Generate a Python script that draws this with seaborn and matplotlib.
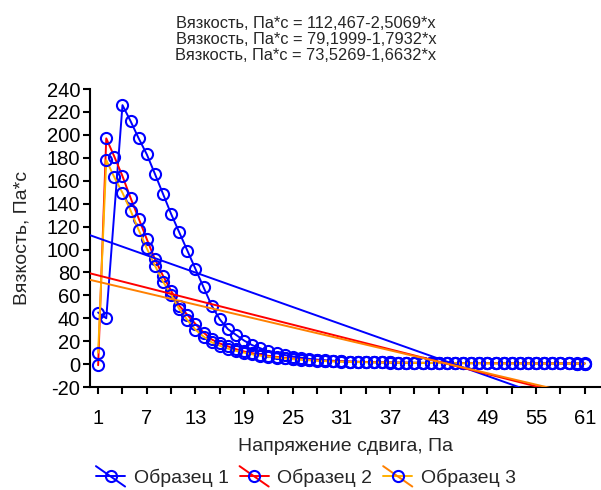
import numpy as np
import pandas as pd
import matplotlib
matplotlib.use("Agg")
import matplotlib.pyplot as plt
from matplotlib.lines import Line2D
from matplotlib.legend_handler import HandlerBase
import seaborn as sns

# Shear stress points (Pa)
stress = list(range(1, 62))

# Viscosity (Pa*s) per sample
sample1 = [45, 40, np.nan, 226, 212, 197, 183, 166, 148.5, 131,
           115, 99, 83, 67, 51, 39, 30.5, 25.5, 20.5, 16.5,
           13.8, 11, 9.4, 7.9, 6.6, 5.6, 4.6, 3.9, 3.3, 2.9,
           2.5, 2.2, 2.0, 1.8, 1.6, 1.5, 1.4, 1.3, 1.2, 1.15,
           1.1, 1.05, 1.0, 0.98, 0.95, 0.92, 0.9, 0.88, 0.85, 0.83,
           0.8, 0.78, 0.76, 0.74, 0.72, 0.7, 0.68, 0.66, 0.64, 0.62, 0.6]
sample2 = [-1, 197, 181, 164, 145, 127, 109, 91.5, 77, 64,
           51, 43, 35, 27.5, 21.5, 18, 15.5, 13, 11, 9.5,
           8.2, 7.2, 6.3, 5.5, 4.8, 4.2, 3.7, 3.3, 2.9, 2.6,
           2.35, 2.15, 1.95, 1.8, 1.65, 1.5, 1.4, 1.3, 1.2, 1.1,
           1.05, 1.0, 0.95, 0.9, 0.85, 0.82, 0.78, 0.75, 0.72, 0.7,
           0.67, 0.65, 0.63, 0.61, 0.59, 0.57, 0.55, 0.54, 0.52, 0.51, 0.5]
sample3 = [10, 178, 163, 149.5, 134, 117, 101, 86, 72, 60.5,
           48, 38.5, 30, 24, 19, 16, 13.5, 11.5, 10, 8.5,
           7.3, 6.4, 5.6, 4.9, 4.3, 3.8, 3.3, 2.9, 2.6, 2.3,
           2.1, 1.9, 1.75, 1.6, 1.5, 1.4, 1.3, 1.2, 1.1, 1.05,
           1.0, 0.95, 0.9, 0.86, 0.82, 0.79, 0.76, 0.73, 0.7, 0.68,
           0.66, 0.64, 0.62, 0.6, 0.58, 0.56, 0.54, 0.53, 0.52, 0.51, 0.5]

series_names = ["Образец 1", "Образец 2", "Образец 3"]
# Linear fits: intercept, slope
fit_intercepts = [112.467, 79.1999, 73.5269]
fit_slopes = [-2.5069, -1.7932, -1.6632]
fit_labels = ["Вязкость, Па*с = 112,467-2,5069*x",
              "Вязкость, Па*с = 79,1999-1,7932*x",
              "Вязкость, Па*с = 73,5269-1,6632*x"]

x_label = "Напряжение сдвига, Па"
y_label = "Вязкость, Па*с"
y_ticks = list(range(-20, 241, 20))
x_ticks = list(range(1, 62, 3))

line_colors = ["#0000FF", "#FF0000", "#FFB000"]
fit_colors = ["#0000FF", "#FF0000", "#FF8000"]
marker_color = "#0000FF"

sns.set_style("ticks")
plt.rcParams["font.family"] = ["Liberation Sans", "DejaVu Sans"]

fig = plt.figure(figsize=(6.01, 4.90), dpi=100)
ax = fig.add_axes([0.1498, 0.2102, 0.8502, 0.608])

df = pd.DataFrame({"stress": stress, "s1": sample1, "s2": sample2, "s3": sample3})
for col, lc in zip(["s1", "s2", "s3"], line_colors):
    sns.lineplot(data=df, x="stress", y=col, ax=ax, color=lc, lw=1.4,
                 marker="o", markersize=8, mfc="none", mec=marker_color,
                 mew=1.5, zorder=3)

x_fit = np.array([0.0, 63.0])
for a, b, fc in zip(fit_intercepts, fit_slopes, fit_colors):
    sns.lineplot(x=x_fit, y=a + b * x_fit, ax=ax, color=fc, lw=1.4, zorder=4)

ax.set_xlim(0, 63)
ax.set_ylim(-20, 240)
ax.set_yticks(y_ticks)
ax.set_yticklabels([str(v) for v in y_ticks])
ax.set_xticks(x_ticks)
ax.set_xticklabels([str(v) if (v - 1) % 6 == 0 else "" for v in x_ticks])
ax.tick_params(axis="both", direction="out", length=5, width=1.5,
               colors="black", labelsize=14.5)
ax.tick_params(axis="x", pad=11)
ax.tick_params(axis="y", pad=2)
for side in ["top", "right"]:
    ax.spines[side].set_visible(False)
for side in ["left", "bottom"]:
    ax.spines[side].set_linewidth(1.5)
    ax.spines[side].set_color("black")
ax.set_xlabel("")
ax.set_ylabel("")

fig.text(345 / 601, 1 - 446 / 490, x_label, ha="center", va="center", fontsize=14)
fig.text(22 / 601, 1 - 238 / 490, y_label, ha="center", va="center",
         rotation=90, fontsize=14)

for i, t in enumerate(fit_labels):
    fig.text(306 / 601, 1 - (23 + 16.5 * i) / 490, t, ha="center", va="center",
             fontsize=11.8)


class FitSeriesHandler(HandlerBase):
    """Legend key showing a fitted line crossing the series line and marker."""

    def create_artists(self, legend, orig_handle, xdescent, ydescent,
                       width, height, fontsize, trans):
        fit_color, line_color = orig_handle
        x0, x1 = -xdescent, width - xdescent
        y0, y1 = -ydescent, height - ydescent
        ym = (y0 + y1) / 2
        span = height * 0.75
        diag = Line2D([x0, x1], [ym + span, ym - span], color=fit_color, lw=1.4)
        horiz = Line2D([x0, x1], [ym, ym], color=line_color, lw=1.4)
        mark = Line2D([(x0 + x1) / 2], [ym], marker="o", markersize=8,
                      mfc="none", mec=marker_color, mew=1.5, lw=0)
        arts = [horiz, diag, mark]
        for art in arts:
            art.set_transform(trans)
        return arts


handles = [(fc, lc) for fc, lc in zip(fit_colors, line_colors)]
fig.legend(handles, series_names, handler_map={tuple: FitSeriesHandler()},
           loc="center", bbox_to_anchor=(306 / 601, 1 - 478 / 490), ncol=3,
           frameon=False, fontsize=14, handlelength=1.5, handletextpad=0.45,
           columnspacing=0.55, borderpad=0, borderaxespad=0)

fig.savefig("out.png", dpi=100)
